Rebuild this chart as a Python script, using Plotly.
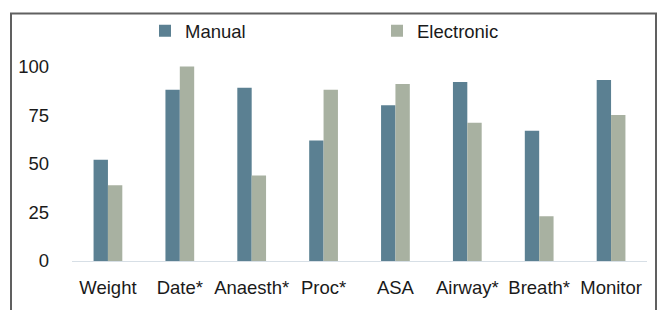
import plotly.graph_objects as go

categories = ["Weight", "Date*", "Anaesth*", "Proc*", "ASA", "Airway*", "Breath*", "Monitor"]
manual = [52, 88, 89, 62, 80, 92, 67, 93]
electronic = [39, 100, 44, 88, 91, 71, 23, 75]
y_ticks = [0, 25, 50, 75, 100]

FONT = "Liberation Sans, Arial, sans-serif"
W, H = 660, 310
L, R, T, B = 72, 13, 46, 47
pw, ph = W - L - R, H - T - B

def px_x(x):
    return (x - L) / pw

def px_y(y):
    return (H - B - y) / ph

fig = go.Figure()
fig.add_trace(go.Bar(name="Manual", x=categories, y=manual, marker_color="#5b8092",
                     marker_line_width=0, legend="legend"))
fig.add_trace(go.Bar(name="Electronic", x=categories, y=electronic, marker_color="#a8b1a1",
                     marker_line_width=0, legend="legend2"))

fig.update_layout(
    width=W, height=H,
    margin=dict(l=L, r=R, t=T, b=B),
    paper_bgcolor="white", plot_bgcolor="white",
    showlegend=True,
    barmode="group", bargap=0.6, bargroupgap=0,
    font=dict(family=FONT, size=18.5, color="#1a1a1a"),
    legend=dict(x=px_x(145), y=px_y(30), xanchor="left", yanchor="middle",
                orientation="h", bgcolor="rgba(0,0,0,0)", font=dict(size=18.5), visible=True),
    legend2=dict(x=px_x(377), y=px_y(30), xanchor="left", yanchor="middle",
                 orientation="h", bgcolor="rgba(0,0,0,0)", font=dict(size=18.5), visible=True),
    xaxis=dict(showline=True, linecolor="#d7dfe6", linewidth=1, ticks="",
               showgrid=False, ticklabelstandoff=10, tickfont=dict(size=18.5)),
    yaxis=dict(range=[0, 110], tickvals=y_ticks, showgrid=False, zeroline=False,
               showline=False, ticks="", ticklabelstandoff=22, tickfont=dict(size=18.5)),
    shapes=[dict(type="rect", xref="paper", yref="paper",
                 x0=px_x(11), x1=px_x(656), y0=px_y(330), y1=px_y(12),
                 line=dict(color="#606060", width=2), fillcolor="rgba(0,0,0,0)", layer="below")],
)

fig.write_html("out.html", config={"displayModeBar": False, "staticPlot": True},
               post_script="document.body.style.margin='0';document.body.style.overflow='hidden';")
